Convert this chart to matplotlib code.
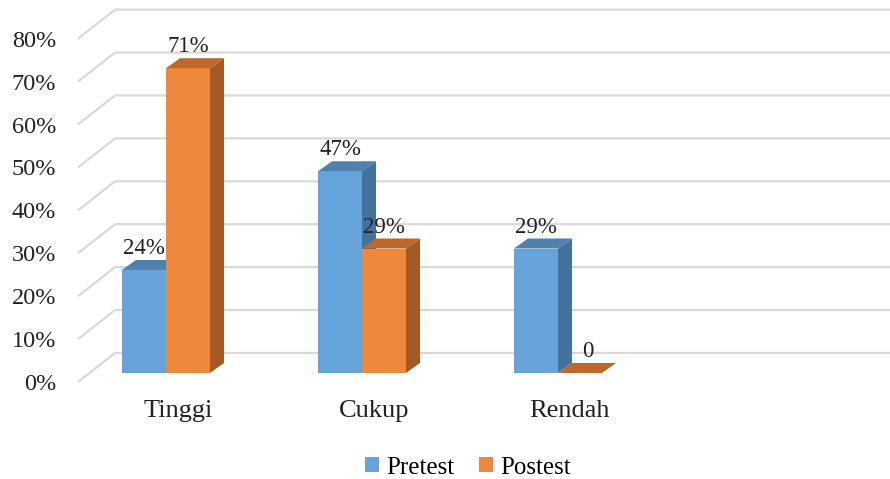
import numpy as np
import matplotlib
matplotlib.use('Agg')
import matplotlib.pyplot as plt
from matplotlib.patches import Polygon, Patch

categories = ['Tinggi', 'Cukup', 'Rendah']
pretest = [24, 47, 29]
postest = [71, 29, 0]
pre_labels = ['24%', '47%', '29%']
post_labels = ['71%', '29%', '0']
yticks = [0, 10, 20, 30, 40, 50, 60, 70, 80]

plt.rcParams['font.family'] = ['Liberation Serif', 'DejaVu Serif']

# colours: front, side, top
blue = ('#66a3da', '#44729c', '#4f80ae')
orange = ('#ef883a', '#a35a24', '#bd672a')
grid_col = '#d9d9d9'
txt = '#222222'

# depth of a bar and of the floor/back wall (in data units)
BAR_W = 0.2245
DX, DY = 0.0714, 2.33
WALL_X0 = -0.39
FRONT = (-0.059, -2.1)
BACK = (0.13, 4.66)

fig = plt.figure(figsize=(8.9, 4.79), dpi=100)
ax = fig.add_axes([0, 0, 1, 1])
ax.set_xlim(-0.847, 3.694)
ax.set_ylim(-24.7, 86.9)
ax.axis('off')

# gridlines with perspective
for v in yticks:
    xa, ya = WALL_X0 + FRONT[0], v + FRONT[1]
    xb, yb = WALL_X0 + BACK[0], v + BACK[1]
    ax.plot([xa, xb, 3.694], [ya, yb, yb], color=grid_col, lw=1.6,
            solid_capstyle='butt', zorder=1)
    ax.text(xa - 0.112, ya - 0.6, '{}%'.format(v), ha='right', va='center',
            fontsize=17.5, color=txt)


def bar3d(x, h, cols):
    front, side, top = cols
    ax.add_patch(Polygon([(x, 0), (x + BAR_W, 0), (x + BAR_W, h), (x, h)],
                         closed=True, fc=front, ec='none', zorder=3))
    ax.add_patch(Polygon([(x + BAR_W, 0), (x + BAR_W + DX, DY),
                          (x + BAR_W + DX, h + DY), (x + BAR_W, h)],
                         closed=True, fc=side, ec='none', zorder=3))
    ax.add_patch(Polygon([(x, h), (x + BAR_W, h), (x + BAR_W + DX, h + DY),
                          (x + DX, h + DY)],
                         closed=True, fc=top, ec='none', zorder=3))


for i, cat in enumerate(categories):
    bar3d(i - BAR_W, pretest[i], blue)
    bar3d(i, postest[i], orange)
    ax.text(i - BAR_W / 2, pretest[i] + DY + 0.2, pre_labels[i],
            ha='center', va='bottom', fontsize=16.5, color=txt, zorder=5)
    ax.text(i + BAR_W / 2 + (0.04 if postest[i] == 0 else 0),
            postest[i] + DY + 0.2, post_labels[i],
            ha='center', va='bottom', fontsize=16.5, color=txt, zorder=5)
    ax.text(i + 0.06, -8.8, cat, ha='center', va='center', fontsize=19,
            color=txt)

handles = [Patch(fc=blue[0], label='Pretest'), Patch(fc=orange[0], label='Postest')]
fig.legend(handles=handles, loc='center', bbox_to_anchor=(0.526, 0.024),
           ncol=2, frameon=False, fontsize=18, handlelength=0.55,
           handleheight=0.55, handletextpad=0.3, columnspacing=1.0)

fig.savefig('out.png', dpi=100)
